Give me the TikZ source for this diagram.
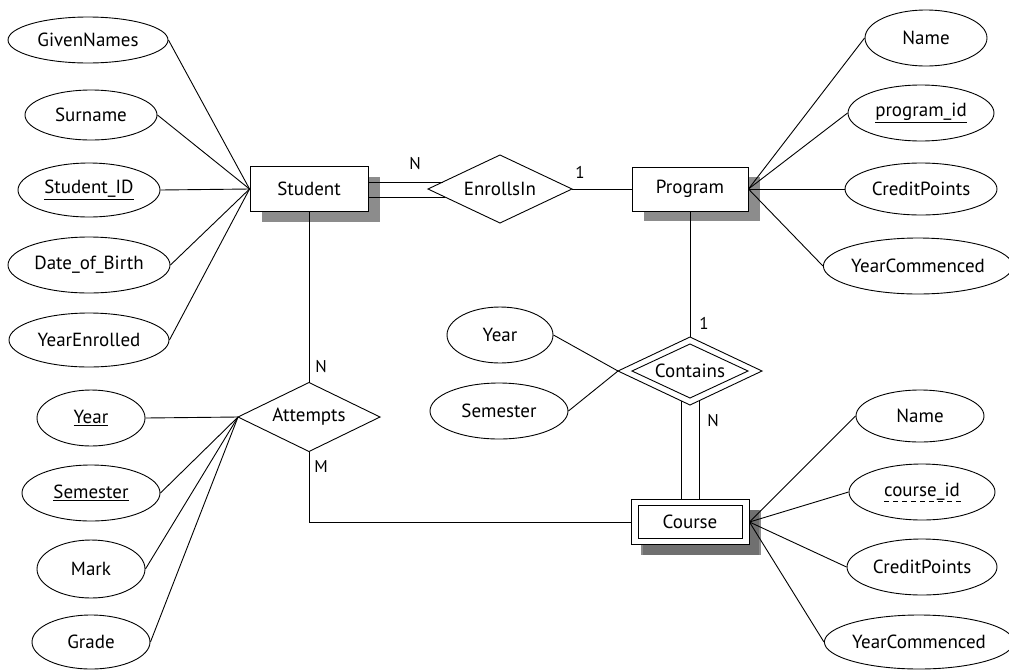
\documentclass[tikz,border=0pt]{standalone}
\usepackage{fontspec}
\setmainfont{PT Sans}
\usetikzlibrary{shapes.geometric,shadows,calc}
\tikzset{
  attr/.style={ellipse, draw, line width=0.9pt, inner sep=0pt, fill=white, font=\fontsize{19}{22}\selectfont},
  ent/.style={rectangle, draw, line width=0.9pt, fill=white, inner sep=0pt, minimum width=118pt, minimum height=45pt, font=\fontsize{19}{22}\selectfont,
    drop shadow={shadow xshift=12pt, shadow yshift=-10pt, fill=black!60, opacity=0.75}},
  rel/.style={diamond, draw, line width=0.9pt, aspect=2.1, fill=white, inner sep=0pt, outer sep=0pt, minimum width=144pt, minimum height=68pt, font=\fontsize{19}{22}\selectfont},
  conn/.style={line width=0.9pt},
  card/.style={font=\fontsize{17}{20}\selectfont, inner sep=0pt}
}
\begin{document}
\begin{tikzpicture}[x=1pt,y=-1pt]
\useasboundingbox (0,0) rectangle (1009,670);
% entities
\node[ent] (student) at (309,189) {Student};
\node[ent, minimum width=116pt, minimum height=44pt] (prog) at (690,189) {Program};
\node[ent, drop shadow={shadow xshift=10pt, shadow yshift=-10pt, fill=black!60, opacity=0.75}] (course) at (690,522) {};
\node[draw, line width=0.9pt, minimum width=104pt, minimum height=33pt, inner sep=0pt, font=\fontsize{19}{22}\selectfont] (coursein) at (690,522) {Course};
% relationships
\node[rel] (enr) at (500,189) {EnrollsIn};
\node[rel, minimum width=142pt, minimum height=69pt] (att) at (309,417) {Attempts};
\node[rel] (cont) at (690,371) {};
\node[rel, minimum width=116pt, minimum height=54pt, fill=none] (contin) at (690,371) {Contains};
% student attributes
\node[attr, minimum width=160pt, minimum height=46pt] (gn) at (88,40) {GivenNames};
\node[attr, minimum width=132pt, minimum height=50pt] (sur) at (91,115) {Surname};
\node[attr, minimum width=142pt, minimum height=54pt] (sid) at (89,190) {\underline{Student\_ID}};
\node[attr, minimum width=162pt, minimum height=56pt] (dob) at (89,265) {Date\_of\_Birth};
\node[attr, minimum width=160pt, minimum height=54pt] (yen) at (89,340) {YearEnrolled};
% program attributes
\node[attr, minimum width=122pt, minimum height=56pt] (pname) at (926,38) {Name};
\node[attr, minimum width=146pt, minimum height=56pt] (pid) at (921,113) {\underline{program\_id}};
\node[attr, minimum width=152pt, minimum height=52pt] (pcp) at (921,189) {CreditPoints};
\node[attr, minimum width=176pt, minimum height=56pt] (pyc) at (918,266) {YearCommenced};
% contains attributes
\node[attr, minimum width=106pt, minimum height=56pt] (cyear) at (500,335) {Year};
\node[attr, minimum width=138pt, minimum height=56pt] (csem) at (499,411) {Semester};
% attempts attributes
\node[attr, minimum width=108pt, minimum height=56pt] (ayear) at (91,418) {\underline{Year}};
\node[attr, minimum width=138pt, minimum height=56pt] (asem) at (91,493) {\underline{Semester}};
\node[attr, minimum width=108pt, minimum height=58pt] (amark) at (91,569) {Mark};
\node[attr, minimum width=118pt, minimum height=54pt] (agrade) at (91,642) {Grade};
% course attributes
\node[attr, minimum width=128pt, minimum height=52pt] (cname) at (920,416) {Name};
\node[attr, minimum width=146pt, minimum height=56pt] (cid) at (922,492) {course\_id};
\draw[line width=0.8pt, dash pattern=on 5pt off 4pt] ($(cid.center)+(-38,9)$) -- ($(cid.center)+(40,9)$);
\node[attr, minimum width=150pt, minimum height=56pt] (ccp) at (922,567) {CreditPoints};
\node[attr, minimum width=176pt, minimum height=54pt] (cyc) at (919,642) {YearCommenced};
% connectors
\draw[conn] (gn.east) -- (student.west);
\draw[conn] (sur.east) -- (student.west);
\draw[conn] (sid.east) -- (student.west);
\draw[conn] (dob.east) -- (student.west);
\draw[conn] (yen.east) -- (student.west);
\draw[conn] (pname.west) -- (prog.east);
\draw[conn] (pid.west) -- (prog.east);
\draw[conn] (pcp.west) -- (prog.east);
\draw[conn] (pyc.west) -- (prog.east);
\draw[conn] (cname.west) -- (course.east);
\draw[conn] (cid.west) -- (course.east);
\draw[conn] (ccp.west) -- (course.east);
\draw[conn] (cyc.west) -- (course.east);
\draw[conn] (ayear.east) -- (att.west);
\draw[conn] (asem.east) -- (att.west);
\draw[conn] (amark.east) -- (att.west);
\draw[conn] (agrade.east) -- (att.west);
\draw[conn] (cyear.east) -- (cont.west);
\draw[conn] (csem.east) -- (cont.west);
% relationships
\draw[conn] ($(student.east)+(0,-7)$) -- ($(enr.west)+(15,-7)$);
\draw[conn] ($(student.east)+(0,8)$) -- ($(enr.west)+(17,8)$);
\draw[conn] (enr.east) -- (prog.west);
\draw[conn] (prog.south) -- (cont.north);
\draw[conn] ($(cont.south)+(-9,-4)$) -- ($(course.north)+(-9,0)$);
\draw[conn] ($(cont.south)+(9,-4)$) -- ($(course.north)+(9,0)$);
\draw[conn] (student.south) -- (att.north);
\draw[conn] (att.south) -- (att.south |- course.west) -- (course.west);
% cardinalities
\node[card] (c1) at (415,164) {N};
\node[card] (c2) at (580,172) {1};
\node[card] (c3) at (704,323) {1};
\node[card] (c4) at (713,421) {N};
\node[card] (c5) at (321,367) {N};
\node[card] (c6) at (321,467) {M};
\end{tikzpicture}
\end{document}
